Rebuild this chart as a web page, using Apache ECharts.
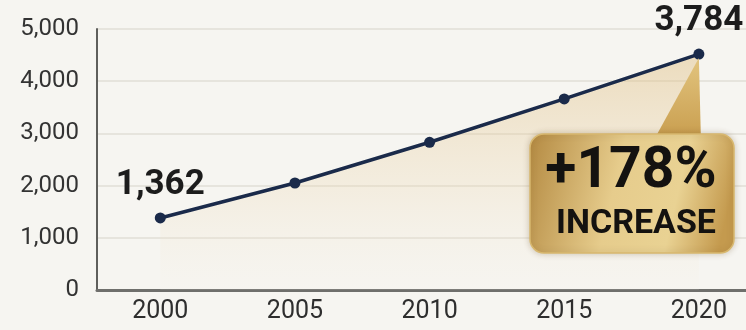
<!DOCTYPE html>
<html lang="en">
<head>
    <meta charset="UTF-8">
    <title>Growth 2000-2020</title>
    <style>
        html, body { margin: 0; padding: 0; background: #f6f5f1; }
        #main { width: 746px; height: 330px; }
    </style>
</head>
<body>
    <div id="main"></div>
</body>
<script src="https://cdn.jsdelivr.net/npm/echarts@6/dist/echarts.min.js"></script>
<script>
    // data
    var years = [2000, 2005, 2010, 2015, 2020];
    var values = [1380, 2050, 2830, 3660, 4520];
    var pointLabels = ['1,362', '', '', '', '3,784'];
    var yTicks = [0, 1000, 2000, 3000, 4000, 5000];
    var badgeTop = '+178%';
    var badgeBottom = 'INCREASE';

    var FONT = 'Roboto, sans-serif';

    var myChart = echarts.init(document.getElementById('main'));

    var option = {
        backgroundColor: '#f6f5f1',
        animation: false,
        grid: { left: 97, right: 0, top: 29, bottom: 40 },
        xAxis: {
            type: 'value',
            min: 1997.65,
            max: 2021.75,
            axisLine: { show: true, onZero: false, lineStyle: { color: '#6f6f6c', width: 3 } },
            axisTick: { show: false },
            splitLine: { show: false },
            axisLabel: {
                customValues: years,
                margin: 9,
                fontFamily: FONT,
                fontSize: 25,
                color: '#2e2e2e',
                formatter: function (v) { return String(v); }
            }
        },
        yAxis: {
            type: 'value',
            min: yTicks[0],
            max: yTicks[yTicks.length - 1],
            interval: 1000,
            axisLine: { show: true, lineStyle: { color: '#5f5f5c', width: 2 } },
            axisTick: { show: false },
            splitLine: { lineStyle: { color: '#e6e4dd', width: 2 } },
            axisLabel: {
                margin: 18,
                fontFamily: FONT,
                fontSize: 24,
                color: '#333333',
                formatter: function (v) { return v.toLocaleString('en-US'); }
            }
        },
        series: [{
            type: 'line',
            data: years.map(function (y, i) { return [y, values[i]]; }),
            symbol: 'circle',
            symbolSize: 11,
            itemStyle: { color: '#1a2a4a' },
            lineStyle: { color: '#1a2a4a', width: 3.5 },
            label: {
                show: true,
                position: 'top',
                distance: 10,
                fontFamily: FONT,
                fontWeight: 'bold',
                fontSize: 35,
                color: '#1c1c1c',
                formatter: function (p) { return pointLabels[p.dataIndex]; }
            },
            areaStyle: {
                color: new echarts.graphic.LinearGradient(0, 0, 0, 1, [
                    { offset: 0, color: 'rgba(222, 186, 120, 0.62)' },
                    { offset: 0.6, color: 'rgba(236, 215, 175, 0.35)' },
                    { offset: 1, color: 'rgba(246, 240, 228, 0.15)' }
                ])
            },
            z: 3
        }]
    };
    myChart.setOption(option);

    // callout badge anchored to the last point
    var tip = myChart.convertToPixel({ gridIndex: 0 }, [years[4], values[4]]);
    var box = { x: 530, y: 134, w: 204, h: 119 };
    myChart.setOption({
        graphic: [
            {
                type: 'polygon',
                z: 10,
                shape: { points: [[box.x + 125, box.y + 4], [tip[0] + 2, box.y + 4], [tip[0], tip[1] + 4]] },
                style: {
                    fill: new echarts.graphic.LinearGradient(0, 0, 0, 1, [
                        { offset: 0, color: '#e2c47e' },
                        { offset: 1, color: '#c99e4f' }
                    ])
                }
            },
            {
                type: 'rect',
                z: 11,
                shape: { x: box.x, y: box.y, width: box.w, height: box.h, r: 14 },
                style: {
                    fill: new echarts.graphic.LinearGradient(0, 0, 1, 0.4, [
                        { offset: 0, color: '#b48a42' },
                        { offset: 0.45, color: '#e6cc8c' },
                        { offset: 0.75, color: '#e9d293' },
                        { offset: 1, color: '#c49a4e' }
                    ]),
                    stroke: '#d8b86f',
                    lineWidth: 1.5,
                    shadowBlur: 6,
                    shadowColor: 'rgba(90, 60, 20, 0.25)'
                }
            },
            {
                type: 'text',
                z: 12,
                x: box.x + 101,
                y: box.y + 39,
                style: {
                    text: badgeTop,
                    fontFamily: FONT,
                    fontWeight: 'bold',
                    fontSize: 57,
                    fill: '#141210',
                    align: 'center',
                    verticalAlign: 'middle'
                }
            },
            {
                type: 'text',
                z: 12,
                x: box.x + 106,
                y: box.y + 90,
                style: {
                    text: badgeBottom,
                    fontFamily: FONT,
                    fontWeight: 'bold',
                    fontSize: 34,
                    fill: '#141210',
                    align: 'center',
                    verticalAlign: 'middle'
                }
            }
        ]
    });
</script>
</html>
